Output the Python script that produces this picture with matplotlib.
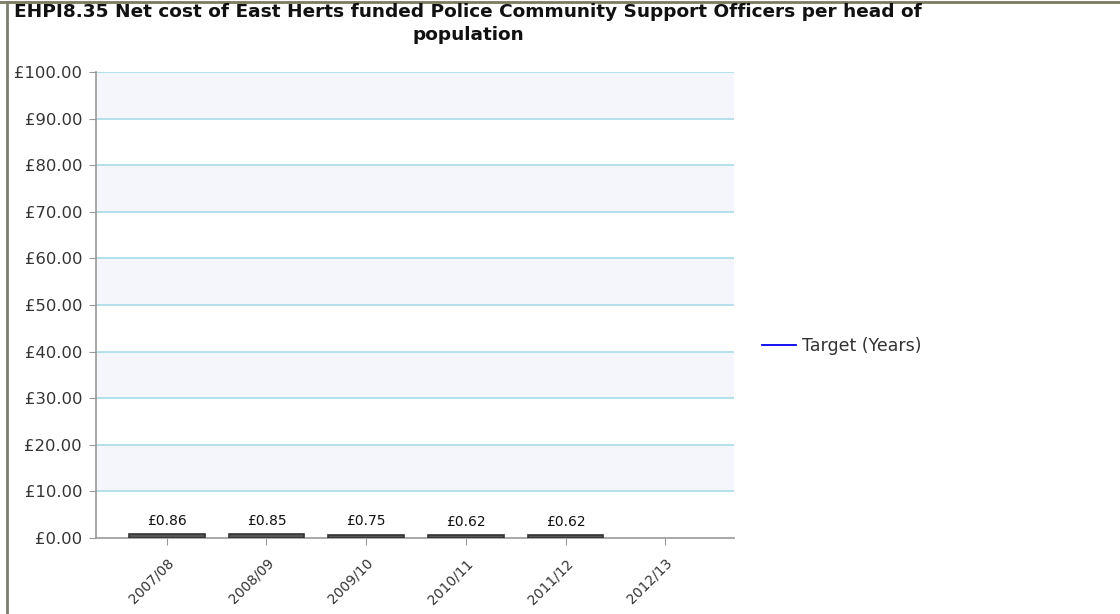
import matplotlib
matplotlib.use("Agg")
import matplotlib.pyplot as plt
from matplotlib.lines import Line2D

categories = ["2007/08", "2008/09", "2009/10", "2010/11", "2011/12", "2012/13"]
values = [0.86, 0.85, 0.75, 0.62, 0.62, None]
labels = ["£0.86", "£0.85", "£0.75", "£0.62", "£0.62", ""]
yticks = [0, 10, 20, 30, 40, 50, 60, 70, 80, 90, 100]
title = "EHPI8.35 Net cost of East Herts funded Police Community Support Officers per head of\npopulation"
legend_label = "Target (Years)"

fig = plt.figure(figsize=(11.2, 6.14), dpi=100)
W, H = 1120, 614
ax = fig.add_axes([96 / W, 1 - 538 / H, (734 - 96) / W, (538 - 72) / H])

# alternating bands
for i in range(len(yticks) - 1):
    if i % 2 == 1:
        ax.axhspan(yticks[i], yticks[i + 1], color="#f4f6fc", zorder=0, lw=0)
for t in yticks[1:]:
    ax.axhline(t, color="#a8dce6", lw=1.2, zorder=1)

x = list(range(len(categories)))
for xi, v, lab in zip(x, values, labels):
    if v is None:
        continue
    ax.bar(xi, v, width=0.76, color="#555555", edgecolor="#333333", lw=1.2, zorder=3)
    ax.text(xi, v + 1.3, lab, ha="center", va="bottom", fontsize=10, color="#111111", zorder=4)

ax.set_xlim(-0.71, 5.69)
ax.set_ylim(0, 100)
ax.set_yticks(yticks)
ax.set_yticklabels([f"£{t:.2f}" for t in yticks], fontsize=11.8, color="#333333")
ax.set_xticks(x)
ax.set_xticklabels(categories, rotation=45, ha="right", rotation_mode="anchor", fontsize=10, color="#333333")
for s in ["top", "right"]:
    ax.spines[s].set_visible(False)
for s in ["left", "bottom"]:
    ax.spines[s].set_color("#999999")
    ax.spines[s].set_linewidth(1.2)
ax.tick_params(axis="both", colors="#999999", length=5, labelcolor="#333333")
ax.tick_params(axis="x", pad=8)
ax.tick_params(axis="y", pad=5)

fig.text(468 / W, 1 - 3 / H, title, ha="center", va="top", fontsize=13.3, fontweight="bold",
         color="#111111", linespacing=1.35)

handle = Line2D([0], [0], color="#0000ee", lw=1.3)
fig.legend([handle], [legend_label], loc="center left", bbox_to_anchor=(746 / W, 1 - 346 / H),
           frameon=False, fontsize=12.5, handlelength=2.0, handletextpad=0.35,
           labelcolor="#333333")

# frame borders
fig.add_artist(Line2D([0, 1], [1 - 1.5 / H, 1 - 1.5 / H], transform=fig.transFigure, color="#7d7a60", lw=2))
fig.add_artist(Line2D([6.5 / W, 6.5 / W], [0, 1 - 1.5 / H], transform=fig.transFigure, color="#7d7d6d", lw=2))

fig.savefig("out.png", dpi=100)
